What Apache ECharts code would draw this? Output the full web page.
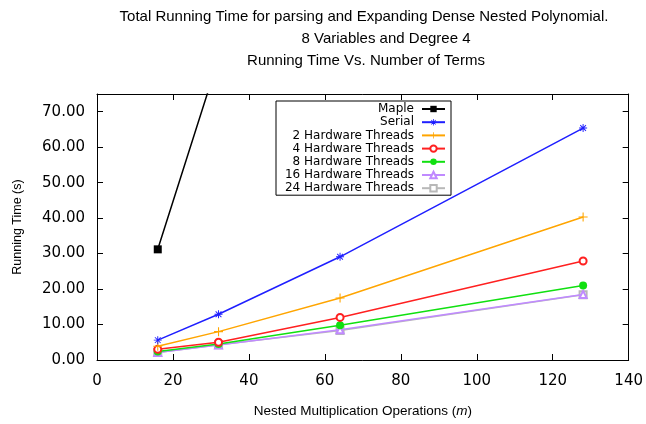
<!DOCTYPE html>
<html><head><meta charset="utf-8">
<script src="https://cdn.jsdelivr.net/npm/echarts@6/dist/echarts.min.js"></script>
<style>html,body{margin:0;padding:0;background:#fff}#c{width:646px;height:424px}</style>
</head><body><div id="c"></div>
<script>
const xValues = [16, 32, 64, 128];
const seriesNames = ['Maple', 'Serial', '2 Hardware Threads', '4 Hardware Threads', '8 Hardware Threads', '16 Hardware Threads', '24 Hardware Threads'];
const maple = [31.2, 85.0, 300, 1200];
const serial = [5.6, 12.9, 29.1, 65.4];
const threads2 = [3.9, 8.0, 17.5, 40.3];
const threads4 = [3.0, 5.0, 12.0, 27.9];
const threads8 = [2.4, 4.5, 9.8, 21.0];
const threads16 = [2.1, 4.2, 8.5, 18.5];
const threads24 = [2.1, 4.3, 8.3, 18.4];
const titleLines = ['Total Running Time for parsing and Expanding Dense Nested Polynomial.', '8 Variables and Degree 4', 'Running Time Vs. Number of Terms'];

const allData = [maple, serial, threads2, threads4, threads8, threads16, threads24];
const colors = ['#000000', '#1f1fff', '#ffa500', '#ff2020', '#10e010', '#c08aff', '#b8b8b8'];
const asterisk = 'path://M0,4.4H10V5.6H0Z M4.4,0H5.6V10H4.4Z M1,1.8L1.8,1L9,8.2L8.2,9Z M9,1.8L1.8,9L1,8.2L8.2,1Z';
const plus = 'path://M0,4.4H10V5.6H0Z M4.4,0H5.6V10H4.4Z';
const symbols = ['rect', asterisk, plus, 'emptyCircle', 'circle', 'emptyTriangle', 'emptyRect'];
const sizes = [8, 8, 9, 7, 8, 7, 7];

const series = seriesNames.map((n, i) => ({
  name: n, type: 'line',
  data: xValues.map((x, j) => [x, allData[i][j]]),
  symbol: symbols[i], symbolSize: sizes[i], showSymbol: true,
  color: colors[i],
  lineStyle: {width: 1.5, color: colors[i]},
  itemStyle: {color: colors[i], borderColor: colors[i], borderWidth: (symbols[i].indexOf('empty') === 0) ? 1.5 : 0},
  clip: true, animation: false, z: 10 - i
}));

const axisCommon = {
  type: 'value',
  axisLine: {show: true, onZero: false, lineStyle: {color: '#000', width: 1}},
  axisTick: {show: true, inside: true, length: 6, lineStyle: {color: '#000'}},
  splitLine: {show: false}
};

const chart = echarts.init(document.getElementById('c'));
chart.setOption({
  animation: false,
  backgroundColor: '#fff',
  title: titleLines.map((t, i) => ({
    text: t, left: [364, 386, 366][i], top: [9, 31, 53][i], textAlign: 'center', padding: 0,
    textStyle: {fontFamily: 'Liberation Sans', fontSize: 15, fontWeight: 'normal', color: '#000'}
  })),
  grid: {left: 97, right: 16, top: 94, bottom: 64, containLabel: false},
  legend: {
    orient: 'vertical', left: 276, top: 101, align: 'right',
    data: seriesNames,
    borderColor: '#000', borderWidth: 1, backgroundColor: '#fff',
    padding: [2, 5, 1, 4], itemGap: 1.2, itemWidth: 23, itemHeight: 8,
    formatter: n => '{a|' + n + '}',
    textStyle: {color: '#000', padding: [0, 3, 0, 0],
      rich: {a: {fontFamily: 'DejaVu Sans', fontSize: 12, height: 12, lineHeight: 12, color: '#000', width: 134, align: 'right'}}},
    z: 20
  },
  xAxis: [
    Object.assign({}, axisCommon, {
      min: 0, max: 140, interval: 20, position: 'bottom',
      axisLabel: {fontFamily: 'DejaVu Sans', fontSize: 15, color: '#000', margin: 14},
      name: 'Nested Multiplication Operations ({i|m})', nameLocation: 'middle', nameGap: 44,
      nameTextStyle: {fontFamily: 'Liberation Sans', fontSize: 13.5, color: '#000',
        rich: {i: {fontFamily: 'Liberation Sans', fontSize: 13.5, fontStyle: 'italic', color: '#000'}}}
    }),
    Object.assign({}, axisCommon, {min: 0, max: 140, interval: 20, position: 'top', axisLabel: {show: false}})
  ],
  yAxis: [
    Object.assign({}, axisCommon, {
      min: 0, max: 75, interval: 10, position: 'left',
      axisLabel: {fontFamily: 'DejaVu Sans', fontSize: 15, color: '#000', margin: 12,
        formatter: v => (v % 10 === 0 ? v.toFixed(2) : '')},
      name: 'Running Time (s)', nameLocation: 'middle', nameGap: 73, nameRotate: 90,
      nameTextStyle: {fontFamily: 'Liberation Sans', fontSize: 12.5, color: '#000', padding: [0, 0, 0, 0]}
    }),
    Object.assign({}, axisCommon, {min: 0, max: 75, interval: 10, position: 'right', axisLabel: {show: false}})
  ],
  series: series
});
</script></body></html>
